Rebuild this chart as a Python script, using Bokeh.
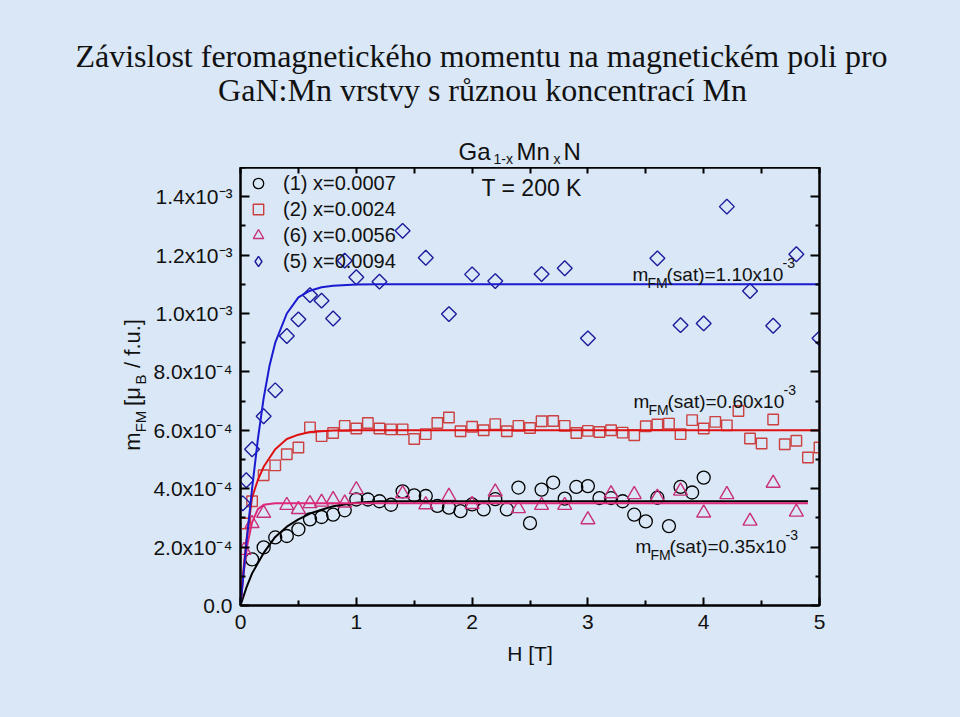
import math
from bokeh.plotting import figure
from bokeh.layouts import column, row
from bokeh.models import (Label, Legend, LegendItem, LinearAxis, FixedTicker,
                          CustomJSTickFormatter, Range1d)
from bokeh.embed import file_html
from bokeh.resources import INLINE

# ---------------- data ----------------
# sample (1) x=0.0007  -- circles
H_1 = [0.1, 0.2, 0.3, 0.4, 0.5, 0.6, 0.7, 0.8, 0.9, 1.0,
       1.1, 1.2, 1.3, 1.4, 1.5, 1.6, 1.7, 1.8, 1.9, 2.0,
       2.1, 2.2, 2.3, 2.4, 2.5, 2.6, 2.7, 2.8, 2.9, 3.0,
       3.1, 3.2, 3.3, 3.4, 3.5, 3.6, 3.7, 3.8, 3.9, 4.0]
m_1 = [1.58e-4, 1.99e-4, 2.33e-4, 2.38e-4, 2.61e-4, 2.95e-4, 3.03e-4, 3.11e-4, 3.26e-4, 3.63e-4,
       3.63e-4, 3.57e-4, 3.45e-4, 3.91e-4, 3.77e-4, 3.75e-4, 3.41e-4, 3.35e-4, 3.23e-4, 3.46e-4,
       3.29e-4, 3.64e-4, 3.29e-4, 4.04e-4, 2.82e-4, 3.97e-4, 4.21e-4, 3.66e-4, 4.06e-4, 4.09e-4,
       3.68e-4, 3.68e-4, 3.57e-4, 3.11e-4, 2.88e-4, 3.69e-4, 2.72e-4, 4.06e-4, 3.87e-4, 4.38e-4]

# sample (2) x=0.0024  -- squares
H_2 = [0.04, 0.1, 0.2, 0.3, 0.4, 0.5, 0.6, 0.7, 0.8, 0.9, 1.0,
       1.1, 1.2, 1.3, 1.4, 1.5, 1.6, 1.7, 1.8, 1.9, 2.0,
       2.1, 2.2, 2.3, 2.4, 2.5, 2.6, 2.7, 2.8, 2.9, 3.0,
       3.1, 3.2, 3.3, 3.4, 3.5, 3.6, 3.7, 3.8, 3.9, 4.0,
       4.1, 4.2, 4.3, 4.4, 4.5, 4.6, 4.7, 4.8, 4.9, 5.0]
m_2 = [2.81e-4, 3.57e-4, 4.46e-4, 4.80e-4, 5.18e-4, 5.41e-4, 6.10e-4, 5.80e-4, 5.91e-4, 6.15e-4, 6.06e-4,
       6.25e-4, 6.06e-4, 6.03e-4, 6.03e-4, 5.70e-4, 5.87e-4, 6.25e-4, 6.44e-4, 5.97e-4, 6.12e-4,
       6.00e-4, 6.21e-4, 5.97e-4, 6.15e-4, 6.08e-4, 6.31e-4, 6.32e-4, 6.15e-4, 5.91e-4, 5.98e-4,
       5.94e-4, 6.00e-4, 5.92e-4, 5.83e-4, 6.14e-4, 6.20e-4, 6.23e-4, 5.87e-4, 6.35e-4, 6.06e-4,
       6.29e-4, 6.17e-4, 6.66e-4, 5.72e-4, 5.55e-4, 6.37e-4, 5.52e-4, 5.64e-4, 5.07e-4, 5.41e-4]

# sample (6) x=0.0056  -- triangles
H_6 = [0.03, 0.1, 0.2, 0.4, 0.5, 0.6, 0.7, 0.8, 0.9, 1.0,
       1.4, 1.6, 1.8, 2.0, 2.2, 2.4, 2.6, 2.8, 3.0, 3.2,
       3.4, 3.6, 3.8, 4.0, 4.2, 4.4, 4.6, 4.8]
m_6 = [1.89e-4, 2.81e-4, 3.16e-4, 3.43e-4, 3.29e-4, 3.49e-4, 3.54e-4, 3.63e-4, 3.51e-4, 3.97e-4,
       3.83e-4, 3.45e-4, 3.74e-4, 3.46e-4, 3.89e-4, 3.32e-4, 3.43e-4, 3.43e-4, 2.94e-4, 3.83e-4,
       3.80e-4, 3.71e-4, 3.92e-4, 3.17e-4, 3.80e-4, 2.89e-4, 4.19e-4, 3.20e-4]

# sample (5) x=0.0094  -- diamonds
H_5 = [0.02, 0.05, 0.1, 0.2, 0.3, 0.4, 0.5, 0.6, 0.7, 0.8,
       0.9, 1.0, 1.2, 1.4, 1.6, 1.8, 2.0, 2.2, 2.6, 2.8,
       3.0, 3.6, 3.8, 4.0, 4.2, 4.4, 4.6, 4.8, 5.0]
m_5 = [3.50e-4, 4.29e-4, 5.35e-4, 6.48e-4, 7.37e-4, 9.23e-4, 9.80e-4, 10.63e-4, 10.44e-4, 9.83e-4,
       11.81e-4, 11.24e-4, 11.09e-4, 12.83e-4, 11.91e-4, 9.98e-4, 11.34e-4, 11.11e-4, 11.35e-4, 11.55e-4,
       9.15e-4, 11.89e-4, 9.60e-4, 9.66e-4, 13.66e-4, 10.77e-4, 9.58e-4, 12.03e-4, 9.15e-4]

# fitted curves
fit_H_1 = [0, 0.05, 0.1, 0.2, 0.3, 0.4, 0.5, 0.6, 0.7, 0.8, 1.0, 1.2, 4.9]
fit_m_1 = [0, 0.6e-4, 1.1e-4, 1.8e-4, 2.35e-4, 2.7e-4, 2.95e-4, 3.15e-4, 3.28e-4, 3.4e-4, 3.52e-4, 3.57e-4, 3.57e-4]
fit_H_2 = [0, 0.02, 0.05, 0.1, 0.15, 0.2, 0.3, 0.4, 0.5, 0.6, 0.8, 1.0, 5.0]
fit_m_2 = [0, 1.0e-4, 2.2e-4, 3.7e-4, 4.3e-4, 4.75e-4, 5.35e-4, 5.7e-4, 5.85e-4, 5.94e-4, 5.99e-4, 6.0e-4, 6.0e-4]
fit_H_6 = [0, 0.03, 0.06, 0.1, 0.15, 0.2, 0.3, 4.9]
fit_m_6 = [0, 1.2e-4, 2.1e-4, 2.85e-4, 3.3e-4, 3.45e-4, 3.5e-4, 3.5e-4]
fit_H_5 = [0, 0.05, 0.1, 0.15, 0.2, 0.25, 0.3, 0.4, 0.5, 0.6, 0.7, 0.8, 1.0, 1.2, 5.0]
fit_m_5 = [0, 2.1e-4, 4.0e-4, 5.7e-4, 7.1e-4, 8.2e-4, 9.0e-4, 10.0e-4, 10.55e-4, 10.78e-4, 10.9e-4,
           10.95e-4, 10.99e-4, 11.0e-4, 11.0e-4]

legend_labels = ["(1) x=0.0007", "(2) x=0.0024", "(6) x=0.0056", "(5) x=0.0094"]
sat_values = ["1.10", "0.60", "0.35"]

x_tick_values = [0, 1, 2, 3, 4, 5]
x_minor_values = [0.5, 1.5, 2.5, 3.5, 4.5]
y_tick_values = [0.0, 2e-4, 4e-4, 6e-4, 8e-4, 1.0e-3, 1.2e-3, 1.4e-3]
y_tick_labels = ["0.0", "2.0x10\u207B\u2074", "4.0x10\u207B\u2074", "6.0x10\u207B\u2074",
                 "8.0x10\u207B\u2074", "1.0x10\u207B\u00B3", "1.2x10\u207B\u00B3", "1.4x10\u207B\u00B3"]
y_minor_values = [1e-4, 3e-4, 5e-4, 7e-4, 9e-4, 1.1e-3, 1.3e-3, 1.5e-3]

# ---------------- layout constants ----------------
BG = "#d9e7f6"
INK = "#111111"
FONT = "Liberation Sans"
SERIF = "Liberation Serif"
X0, X1, Y0, Y1 = 0.0, 5.0, 0.0, 1.5e-3
W, HT = 960, 717
FL, FR, FT, FB = 240, 819, 167, 605      # frame edges on the page (pixels)
TOP_H = 167                              # height of the title strip
LEFT_W = 150                             # width of the y-title strip
MAIN_W, MAIN_H = W - LEFT_W, HT - TOP_H

C_BLACK = "#000000"
C_RED_M = "#cc4040"
C_RED_L = "#e01010"
C_PINK_M = "#c8307a"
C_PINK_L = "#e0287a"
C_BLUE_M = "#1c1c9c"
C_BLUE_L = "#1a1ad0"


def dx(xp):
    return X0 + (xp - FL) / (FR - FL) * (X1 - X0)


def dy(yp):
    return Y0 + (FB - yp) / (FB - FT) * (Y1 - Y0)


def blank_fig(w, h, xr, yr):
    f = figure(width=w, height=h, output_backend="svg", toolbar_location=None,
               x_range=xr, y_range=yr, min_border=0,
               background_fill_color=BG, border_fill_color=BG, outline_line_color=None)
    f.axis.visible = False
    f.grid.visible = False
    f.title.visible = False
    return f


def add_text(f, text, x, y, size, font=FONT, align="left", baseline="alphabetic", angle=0.0):
    f.add_layout(Label(x=x, y=y, text=text, text_font=font, text_font_size=f"{size}px",
                       text_align=align, text_baseline=baseline, angle=angle, text_color=INK))


# ---------------- title strip (page pixels) ----------------
top = blank_fig(W, TOP_H, Range1d(0, W), Range1d(TOP_H, 0))
add_text(top, "Závislost feromagnetického momentu na magnetickém poli pro", 481, 55, 32, font=SERIF, align="center")
add_text(top, "GaN:Mn vrstvy s různou koncentrací Mn", 482, 89, 32, font=SERIF, align="center")
add_text(top, "Ga", 458, 151, 24)
add_text(top, "1-x", 493, 158, 14)
add_text(top, "Mn", 516, 151, 24)
add_text(top, "x", 553, 158, 14)
add_text(top, "N", 563, 151, 24)

# ---------------- y-title strip ----------------
# (its frame is aligned with the main frame, so its y range spans the frame's page rows)
left = blank_fig(LEFT_W, MAIN_H, Range1d(0, LEFT_W), Range1d(FB, FT))
A = math.pi / 2
add_text(left, "m", 131.5, 441, 22, align="center", baseline="middle", angle=A)
add_text(left, "FM", 140, 421, 15, align="center", baseline="middle", angle=A)
add_text(left, "[\u03bc", 131.5, 396, 22, align="center", baseline="middle", angle=A)
add_text(left, "B", 140, 379, 15, align="center", baseline="middle", angle=A)
add_text(left, "/ f.u.]", 131.5, 343, 22, align="center", baseline="middle", angle=A)

# ---------------- main plot ----------------
p = figure(width=MAIN_W, height=MAIN_H, output_backend="svg", toolbar_location=None,
           x_range=Range1d(X0, X1), y_range=Range1d(Y0, Y1),
           min_border_left=FL - LEFT_W, min_border_right=W - FR,
           min_border_top=FT - TOP_H, min_border_bottom=HT - FB,
           background_fill_color=BG, border_fill_color=BG,
           outline_line_color="black", outline_line_width=2)
p.grid.visible = False
p.title.visible = False

x_ticker = FixedTicker(ticks=x_tick_values, minor_ticks=x_minor_values)
y_ticker = FixedTicker(ticks=y_tick_values, minor_ticks=y_minor_values)
y_fmt = CustomJSTickFormatter(args=dict(vals=y_tick_values, labs=y_tick_labels), code="""
let best = 0, bd = Infinity;
for (let i = 0; i < vals.length; i++) {
  const d = Math.abs(vals[i] - tick);
  if (d < bd) { bd = d; best = i; }
}
return labs[best];
""")
blank = CustomJSTickFormatter(code="return '';")


def style_axis(ax, maj, mnr):
    ax.axis_line_width = 2
    ax.axis_line_color = "black"
    ax.major_tick_in = maj
    ax.major_tick_out = 0
    ax.minor_tick_in = mnr
    ax.minor_tick_out = 0
    ax.major_tick_line_width = 2
    ax.minor_tick_line_width = 2
    ax.major_label_text_font = FONT
    ax.major_label_text_font_size = "21px"
    ax.major_label_text_color = INK


xa = p.xaxis[0]
xa.ticker = x_ticker
style_axis(xa, 8, 5)
xa.major_label_standoff = 9
xa.axis_label = "H [T]"
xa.axis_label_text_font = FONT
xa.axis_label_text_font_size = "21px"
xa.axis_label_text_font_style = "normal"
xa.axis_label_text_color = INK
xa.axis_label_standoff = 10

ya = p.yaxis[0]
ya.ticker = y_ticker
ya.formatter = y_fmt
style_axis(ya, 9, 5)
ya.major_label_standoff = 8

ax_top = LinearAxis(ticker=x_ticker, formatter=blank)
style_axis(ax_top, 6, 6)
ax_top.major_label_text_font_size = "0px"
ax_top.major_label_standoff = 0
p.add_layout(ax_top, "above")

ax_right = LinearAxis(ticker=y_ticker, formatter=blank)
style_axis(ax_right, 9, 4)
ax_right.major_label_text_font_size = "0px"
ax_right.major_label_standoff = 0
p.add_layout(ax_right, "right")

# data marks
r1 = p.scatter(H_1, m_1, marker="circle", size=13, fill_alpha=0,
               line_color=C_BLACK, line_width=1.3)
r2 = p.scatter(H_2, m_2, marker="square", size=10.5, fill_alpha=0,
               line_color=C_RED_M, line_width=1.4)
r6 = p.scatter(H_6, m_6, marker="triangle", size=14, fill_alpha=0,
               line_color=C_PINK_M, line_width=1.4)
r5 = p.scatter(H_5, m_5, marker="square", angle=math.pi / 4, size=10.5, fill_alpha=0,
               line_color=C_BLUE_M, line_width=1.4)
# legend swatch for the diamonds (legend glyphs are drawn without rotation)
r5_key = p.scatter([math.nan], [math.nan], marker="diamond", size=14, fill_alpha=0,
                   line_color=C_BLUE_M, line_width=1.4)

p.line(fit_H_1, fit_m_1, line_color=C_BLACK, line_width=2)
p.line(fit_H_6, fit_m_6, line_color=C_PINK_L, line_width=2)
p.line(fit_H_2, fit_m_2, line_color=C_RED_L, line_width=2)
p.line(fit_H_5, fit_m_5, line_color=C_BLUE_L, line_width=2)

legend = Legend(items=[LegendItem(label=legend_labels[0], renderers=[r1]),
                       LegendItem(label=legend_labels[1], renderers=[r2]),
                       LegendItem(label=legend_labels[2], renderers=[r6]),
                       LegendItem(label=legend_labels[3], renderers=[r5_key])],
                location="top_left", background_fill_alpha=0, border_line_alpha=0,
                label_text_font=FONT, label_text_font_size="20px", label_text_color=INK,
                glyph_width=30, glyph_height=26, label_height=26, spacing=0,
                padding=3, margin=0, label_standoff=10)
p.add_layout(legend)

# texts inside the frame (positioned in page pixels, converted to data units)
add_text(p, "T = 200 K", dx(481), dy(187), 23)


def msat(value, xp, base):
    add_text(p, "m", dx(xp), dy(base), 19)
    add_text(p, "FM", dx(xp + 15), dy(base + 8), 14)
    add_text(p, "(sat)=" + value + "x10", dx(xp + 34), dy(base), 19)
    add_text(p, "-3", dx(xp + 150), dy(base - 12), 14)


msat(sat_values[0], 632, 274)
msat(sat_values[1], 633, 401)
msat(sat_values[2], 635, 546)

layout = column(top, row(left, p, spacing=0, styles={"background-color": BG}),
                spacing=0, styles={"background-color": BG})
open("out.html", "w").write(file_html(layout, INLINE))
